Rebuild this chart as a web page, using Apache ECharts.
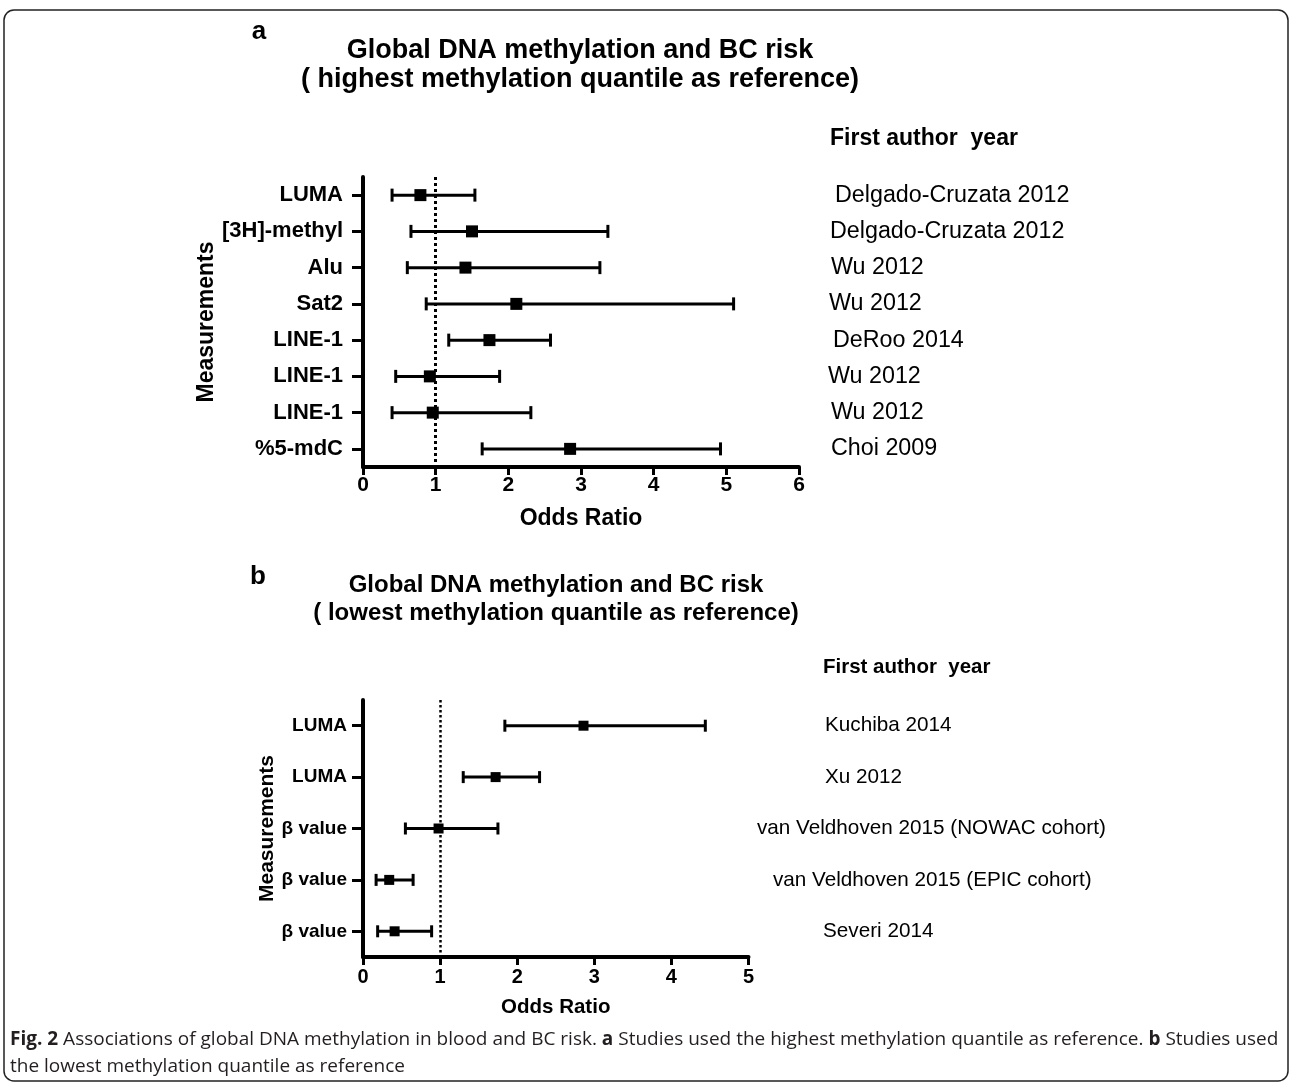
<!DOCTYPE html>
<html>
<head>
<meta charset="utf-8">
<script src="https://cdn.jsdelivr.net/npm/echarts@6/dist/echarts.min.js"></script>
<style>
html,body{margin:0;padding:0;background:#fff;}
#chart{width:1292px;height:1084px;}
</style>
</head>
<body>
<div id="chart"></div>
<script>
// ---------- data ----------
const measuresA = ['LUMA', '[3H]-methyl', 'Alu', 'Sat2', 'LINE-1', 'LINE-1', 'LINE-1', '%5-mdC'];
const studiesA = ['Delgado-Cruzata 2012', 'Delgado-Cruzata 2012', 'Wu 2012', 'Wu 2012', 'DeRoo 2014', 'Wu 2012', 'Wu 2012', 'Choi 2009'];
const orA   = [0.79, 1.50, 1.41, 2.11, 1.74, 0.92, 0.96, 2.85];
const lowA  = [0.40, 0.66, 0.61, 0.87, 1.18, 0.45, 0.40, 1.64];
const highA = [1.54, 3.37, 3.26, 5.10, 2.58, 1.88, 2.31, 4.92];

const measuresB = ['LUMA', 'LUMA', 'β value', 'β value', 'β value'];
const studiesB = ['Kuchiba 2014', 'Xu 2012', 'van Veldhoven 2015 (NOWAC cohort)', 'van Veldhoven 2015 (EPIC cohort)', 'Severi 2014'];
const orB   = [2.86, 1.72, 0.98, 0.34, 0.41];
const lowB  = [1.84, 1.30, 0.55, 0.17, 0.19];
const highB = [4.44, 2.29, 1.75, 0.65, 0.89];

const xTicksA = [0, 1, 2, 3, 4, 5, 6];
const xTicksB = [0, 1, 2, 3, 4, 5];
const refOR = 1;

const titleA = ['Global DNA methylation and BC risk', '( highest methylation quantile as reference)'];
const titleB = ['Global DNA methylation and BC risk', '( lowest methylation quantile as reference)'];
const studyHeader = 'First author  year';
const axisNameX = 'Odds Ratio';
const axisNameY = 'Measurements';
const captionLine1 = '{b|Fig. 2} Associations of global DNA methylation in blood and BC risk. {b|a} Studies used the highest methylation quantile as reference. {b|b} Studies used';
const captionLine2 = 'the lowest methylation quantile as reference';

// ---------- layout (styles / positions only) ----------
const FONT = '"Liberation Sans", Arial, Helvetica, sans-serif';
const studyLabelXA = [835, 830, 831, 829, 833, 828, 831, 831];
const studyLabelXB = [825, 825, 757, 773, 823];

const chart = echarts.init(document.getElementById('chart'), null, {renderer: 'canvas'});

function rows(low, or, high) {
  return or.map((v, i) => [i, low[i], v, high[i]]);
}

function makeRender(sq, capH) {
  return function (params, api) {
    const y = api.value(0);
    const pL = api.coord([api.value(1), y]);
    const pO = api.coord([api.value(2), y]);
    const pH = api.coord([api.value(3), y]);
    const st = {stroke: '#000', lineWidth: 3};
    const c = capH / 2;
    return {
      type: 'group',
      children: [
        {type: 'line', shape: {x1: pL[0], y1: pL[1], x2: pH[0], y2: pH[1]}, style: st},
        {type: 'line', shape: {x1: pL[0], y1: pL[1] - c, x2: pL[0], y2: pL[1] + c}, style: st},
        {type: 'line', shape: {x1: pH[0], y1: pH[1] - c, x2: pH[0], y2: pH[1] + c}, style: st},
        {type: 'rect', shape: {x: pO[0] - sq / 2, y: pO[1] - sq / 2, width: sq, height: sq}, style: {fill: '#000'}}
      ]
    };
  };
}

function xAxisCfg(gridIndex, ticks, labelSize, nameSize, nameGap, margin) {
  return {
    gridIndex: gridIndex, type: 'value',
    min: ticks[0], max: ticks[ticks.length - 1], interval: 1,
    name: axisNameX, nameLocation: 'middle', nameGap: nameGap,
    nameTextStyle: {fontFamily: FONT, fontWeight: 'bold', fontSize: nameSize, color: '#000'},
    axisLine: {show: true, lineStyle: {color: '#000', width: 4}},
    axisTick: {show: true, length: 8, lineStyle: {color: '#000', width: 3}},
    axisLabel: {fontFamily: FONT, fontWeight: 'bold', fontSize: labelSize, color: '#000', margin: margin},
    splitLine: {show: false}
  };
}

function yAxisCfg(gridIndex, cats, nameGap, nameSize, labelSize, margin) {
  return {
    gridIndex: gridIndex, type: 'category', data: cats, inverse: true,
    name: axisNameY, nameLocation: 'middle', nameGap: nameGap, nameRotate: 90,
    nameTextStyle: {fontFamily: FONT, fontWeight: 'bold', fontSize: nameSize, color: '#000'},
    axisLine: {show: true, lineStyle: {color: '#000', width: 4}},
    axisTick: {show: true, alignWithLabel: true, length: 11, lineStyle: {color: '#000', width: 3}},
    axisLabel: {fontFamily: FONT, fontWeight: 'bold', fontSize: labelSize, color: '#000', margin: margin},
    splitLine: {show: false}
  };
}

function refLine(width, dash) {
  return {
    silent: true, symbol: 'none', animation: false,
    label: {show: false},
    lineStyle: {color: '#000', width: width, type: dash, cap: 'butt'},
    data: [{xAxis: refOR}]
  };
}

const option = {
  animation: false,
  backgroundColor: '#fff',
  grid: [
    {left: 363, top: 177, width: 436, height: 290},
    {left: 363, top: 700, width: 385.5, height: 257}
  ],
  xAxis: [xAxisCfg(0, xTicksA, 21, 23, 40, 8), xAxisCfg(1, xTicksB, 20, 20.5, 40, 10)],
  yAxis: [yAxisCfg(0, measuresA, 144, 23, 22, 20), yAxisCfg(1, measuresB, 81, 21, 19, 16)],
  series: [
    {
      type: 'custom', xAxisIndex: 0, yAxisIndex: 0,
      renderItem: makeRender(12, 13), encode: {x: [1, 2, 3], y: 0},
      data: rows(lowA, orA, highA), z: 3,
      markLine: refLine(3, [3, 3])
    },
    {
      type: 'custom', xAxisIndex: 1, yAxisIndex: 1,
      renderItem: makeRender(10, 12), encode: {x: [1, 2, 3], y: 0},
      data: rows(lowB, orB, highB), z: 3,
      markLine: refLine(2.5, [2.5, 2.5])
    }
  ]
};
chart.setOption(option);

// ---------- text overlays ----------
const g = [];
g.push({type: 'rect', shape: {x: 4, y: 10, width: 1284, height: 1071, r: 10},
  style: {fill: 'none', stroke: '#222', lineWidth: 1.5}, z: 0});

function txt(x, y, text, size, weight, align) {
  return {type: 'text', x: x, y: y, z: 10,
    style: {text: text, fontFamily: FONT, fontSize: size, fontWeight: weight, fill: '#000',
      textAlign: align, textVerticalAlign: 'middle'}};
}

g.push(txt(259, 32, 'a', 26, 'bold', 'center'));
g.push(txt(580, 51, titleA[0], 27, 'bold', 'center'));
g.push(txt(580, 80, titleA[1], 27, 'bold', 'center'));
g.push(txt(830, 139, studyHeader, 23, 'bold', 'left'));

g.push(txt(258, 577, 'b', 26, 'bold', 'center'));
g.push(txt(556, 585, titleB[0], 24, 'bold', 'center'));
g.push(txt(556, 613, titleB[1], 24, 'bold', 'center'));
g.push(txt(823, 667, studyHeader, 20.5, 'bold', 'left'));

studiesA.forEach((s, i) => {
  const y = chart.convertToPixel({yAxisIndex: 0}, i);
  g.push(txt(studyLabelXA[i], y, s, 23.3, 'normal', 'left'));
});
studiesB.forEach((s, i) => {
  const y = chart.convertToPixel({yAxisIndex: 1}, i);
  g.push(txt(studyLabelXB[i], y, s, 20.7, 'normal', 'left'));
});

const capFont = '"Open Sans", "Noto Sans", sans-serif';
g.push({type: 'text', x: 10, y: 1040, z: 10,
  style: {text: captionLine1, fontFamily: capFont, fontSize: 19, fill: '#231f20', textVerticalAlign: 'middle',
    rich: {b: {fontFamily: capFont, fontSize: 19, fontWeight: 'bold', fill: '#231f20'}}}});
g.push({type: 'text', x: 10, y: 1067, z: 10,
  style: {text: captionLine2, fontFamily: capFont, fontSize: 19, fill: '#231f20', textVerticalAlign: 'middle'}});

chart.setOption({graphic: g});
</script>
</body>
</html>
